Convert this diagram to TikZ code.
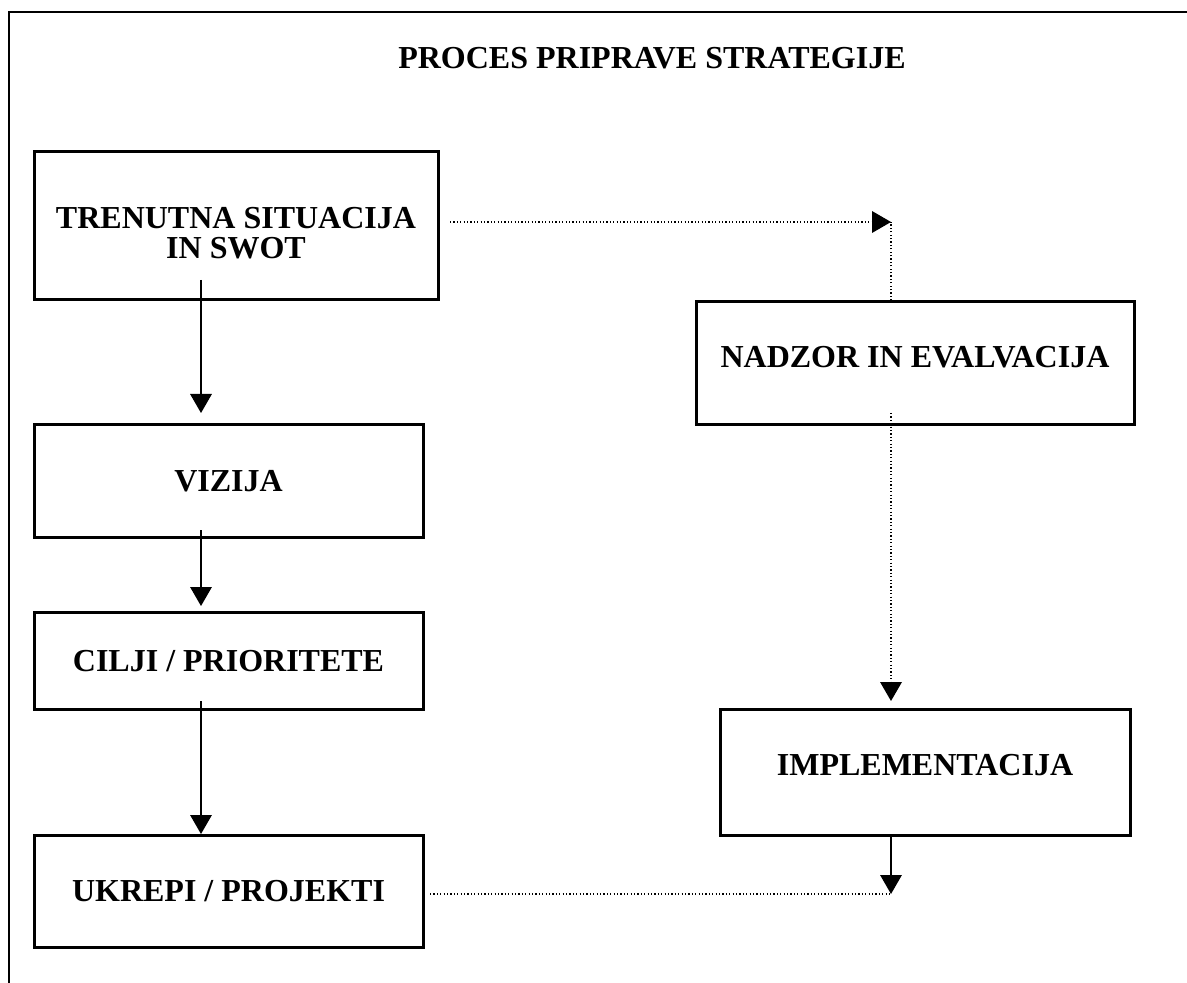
\documentclass[tikz,border=0pt]{standalone}
\usepackage{fontspec}
\setmainfont{Liberation Serif}
\usetikzlibrary{arrows.meta}
\begin{document}
\begin{tikzpicture}[x=0.5pt,y=-0.5pt,
  box/.style={draw,line width=1.5pt,inner sep=0pt,font=\fontsize{16}{12.5}\selectfont\bfseries},
  onel/.style={text height=10.6pt,text depth=0pt},
  frame/.style={line width=0.75pt},
  arr/.style={line width=0.6pt,-{Triangle[length=9.5pt,width=10.8pt]}},
  dotl/.style={line width=0.75pt,dash pattern=on 0.6pt off 1.1pt},
  darr/.style={dotl,-{Triangle[length=9.5pt,width=10.8pt]}}]
\useasboundingbox (0,0) rectangle (1187,983);
% frame
\coordinate (fTL) at (9,12);
\coordinate (fTR) at (1187,12);
\coordinate (fBL) at (9,983);
\draw[frame] (fTR) -- (fTL) -- (fBL);
% title
\node[font=\fontsize{16}{12.5}\selectfont\bfseries,onel,inner sep=0pt] (title) at (652,57.5) {PROCES PRIPRAVE STRATEGIJE};
% boxes
\node[box,font=\fontsize{16}{14.5}\selectfont\bfseries,minimum width=202pt,minimum height=74pt] (t) at (236,226)
  {\raisebox{-5.6pt}[\height][\depth]{\begin{tabular}{@{}c@{}}TRENUTNA SITUACIJA\\IN SWOT\end{tabular}}};
\node[box,onel,minimum width=194.5pt,minimum height=56pt] (v) at (228.5,481) {VIZIJA};
\node[box,onel,minimum width=194.5pt,minimum height=48.5pt] (c) at (228.5,660.5) {CILJI / PRIORITETE};
\node[box,onel,minimum width=194.5pt,minimum height=56pt] (u) at (228.5,891) {UKREPI / PROJEKTI};
\node[box,onel,minimum width=219pt,minimum height=61.5pt] (n) at (915,363.5) {\raisebox{3.25pt}{NADZOR IN EVALVACIJA}};
\node[box,onel,minimum width=205pt,minimum height=63pt] (i) at (925,772) {\raisebox{3.5pt}{IMPLEMENTACIJA}};
% connector points
\coordinate (a1s) at (201,280);
\coordinate (a1e) at (201,413);
\coordinate (a2s) at (201,530);
\coordinate (a2e) at (201,606);
\coordinate (a3s) at (201,701);
\coordinate (a3e) at (201,834);
\coordinate (d1s) at (450,222);
\coordinate (d1e) at (891,222);
\coordinate (d2s) at (891,413);
\coordinate (d2e) at (891,701);
\coordinate (d3s) at (430,894);
\coordinate (d3e) at (891,894);
\coordinate (a4s) at (891,835);
% solid arrows
\draw[arr] (a1s) -- (a1e);
\draw[arr] (a2s) -- (a2e);
\draw[arr] (a3s) -- (a3e);
\draw[arr] (a4s) -- (d3e);
% dotted
\draw[dotl] (n.north -| d1e) -- (d1e);
\draw[darr] (d1s) -- (d1e);
\draw[darr] (d2s) -- (d2e);
\draw[dotl] (d3s) -- (d3e);
\end{tikzpicture}
\end{document}
